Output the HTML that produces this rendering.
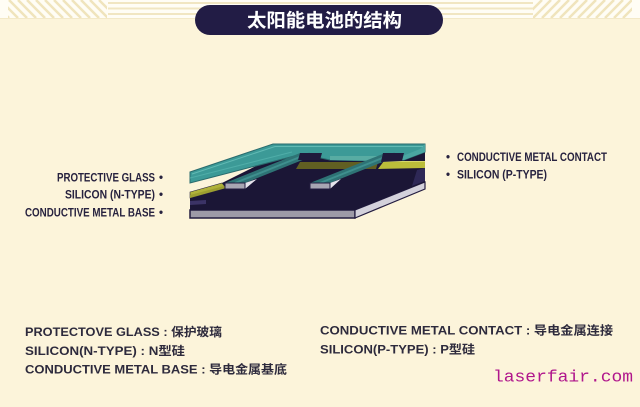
<!DOCTYPE html>
<html>
<head>
<meta charset="utf-8">
<style>
html,body{margin:0;padding:0;background:#fcf4da;}
svg{display:block;}
.lab{font-family:"Liberation Sans","Noto Sans CJK SC",sans-serif;font-weight:700;fill:#27223f;font-size:11.5px;}
.bt{font-family:"Liberation Sans","Noto Sans CJK SC",sans-serif;font-weight:700;fill:#2d2a3c;font-size:12px;}
</style>
</head>
<body>
<svg width="640" height="407" viewBox="0 0 640 407" xmlns="http://www.w3.org/2000/svg">
  <defs>
    <clipPath id="cl"><rect x="8" y="0" width="99" height="18"/></clipPath>
    <clipPath id="cr"><rect x="533" y="0" width="99" height="18"/></clipPath>
  </defs>
  <rect x="0" y="0" width="640" height="407" fill="#fcf4da"/>
  <!-- top strip -->
  <rect x="0" y="0" width="640" height="18" fill="#fffdf5"/>
  <g stroke="#f0e4bc" stroke-width="2.5" clip-path="url(#cl)">
    <line x1="0" y1="0" x2="18" y2="18"/><line x1="9" y1="0" x2="27" y2="18"/>
    <line x1="18" y1="0" x2="36" y2="18"/><line x1="27" y1="0" x2="45" y2="18"/>
    <line x1="36" y1="0" x2="54" y2="18"/><line x1="45" y1="0" x2="63" y2="18"/>
    <line x1="54" y1="0" x2="72" y2="18"/><line x1="63" y1="0" x2="81" y2="18"/>
    <line x1="72" y1="0" x2="90" y2="18"/><line x1="81" y1="0" x2="99" y2="18"/>
    <line x1="90" y1="0" x2="108" y2="18"/><line x1="99" y1="0" x2="117" y2="18"/>
    <line x1="-9" y1="0" x2="9" y2="18"/>
  </g>
  <g stroke="#f0e4bc" stroke-width="2.5" clip-path="url(#cr)">
    <line x1="533" y1="18" x2="551" y2="0"/><line x1="542" y1="18" x2="560" y2="0"/>
    <line x1="551" y1="18" x2="569" y2="0"/><line x1="560" y1="18" x2="578" y2="0"/>
    <line x1="569" y1="18" x2="587" y2="0"/><line x1="578" y1="18" x2="596" y2="0"/>
    <line x1="587" y1="18" x2="605" y2="0"/><line x1="596" y1="18" x2="614" y2="0"/>
    <line x1="605" y1="18" x2="623" y2="0"/><line x1="614" y1="18" x2="632" y2="0"/>
    <line x1="623" y1="18" x2="641" y2="0"/><line x1="524" y1="18" x2="542" y2="0"/>
  </g>
  <g stroke="#f1e6c2" stroke-width="2">
    <line x1="108" y1="3" x2="533" y2="3"/>
    <line x1="108" y1="8.5" x2="533" y2="8.5"/>
    <line x1="108" y1="14" x2="533" y2="14"/>
  </g>
  <line x1="0" y1="18.5" x2="640" y2="18.5" stroke="#f3e9c8" stroke-width="1"/>

  <!-- title pill -->
  <rect x="195" y="5" width="248" height="30" rx="15" ry="15" fill="#221c45"/>
  <text x="247" y="27" font-family="'Liberation Sans','Noto Sans CJK SC',sans-serif" font-weight="700" font-size="18.5" fill="#ffffff" textLength="155" lengthAdjust="spacingAndGlyphs">太阳能电池的结构</text>

  <!-- diagram -->
  <polygon points="190,210 355,210 355,218 190,218" fill="#9d9aa7" stroke="#231c40" stroke-width="1.5"/>
  <polygon points="355,210 425,182 425,189 355,218" fill="#d3d1db" stroke="#231c40" stroke-width="1.2"/>
  <polygon points="191,193 222,183 268,160 300,150 425,150 425,182 355,210 190,210 190,198" fill="#1b1636"/>
  <polygon points="417,170 425,168 425,181 412,186" fill="#2e2856"/>
  <polygon points="190,201 206,200 206,204 190,205" fill="#3b3366"/>
  <polygon points="190,192 222,183 226,188 190,198" fill="#b0b23a" stroke="#2a2540" stroke-width="0.6"/>
  <polygon points="190,195 224,186 226,188 190,198" fill="#9c9e30"/>
  <polygon points="300,162 378,162 376,169 296,169" fill="#615f22"/>
  <polygon points="384,161 425,161 425,168 378,169" fill="#bbbd3a"/>
  <line x1="384" y1="161.5" x2="425" y2="161.5" stroke="#d6d86a" stroke-width="1"/>

  <!-- glass -->
  <polygon points="190,172 273,144 425,144 425,152 404,160 378,161 330,160 302,154 190,183" fill="#3c9a97" stroke="#2a6b6d" stroke-width="1"/>
  <polygon points="425,144 425,152 404,160 400,157 420,149" fill="#4aa6a2"/>
  <polyline points="192,174 275,146.5 423,146.5" fill="none" stroke="#62bab4" stroke-width="1"/>
  <line x1="190" y1="178" x2="292" y2="152" stroke="#4fada8" stroke-width="1"/>
  <polygon points="330,156 400,156 404,160 378,161 330,160" fill="#58aca3"/>

  <!-- strip 1 -->
  <polygon points="225,183 245,183 320,153 300,153" fill="#2e7375"/>
  <line x1="235" y1="183" x2="310" y2="153" stroke="#3f8f8e" stroke-width="2"/>
  <polygon points="300,153 322,153 320,160 298,160" fill="#1f1a3c"/>
  <polygon points="245,183 257,179 245,189" fill="#e6e4ec"/>
  <rect x="225" y="183" width="20" height="6" fill="#a8a6b3" stroke="#231c40" stroke-width="1"/>
  <!-- strip 2 -->
  <polygon points="310,183 330,183 405,153 385,153" fill="#2e7375"/>
  <line x1="320" y1="183" x2="395" y2="153" stroke="#3f8f8e" stroke-width="2"/>
  <polygon points="383,153 404,153 402,161 381,162" fill="#1f1a3c"/>
  <polygon points="330,183 341,179 330,189" fill="#e6e4ec"/>
  <rect x="310" y="183" width="20" height="6" fill="#a8a6b3" stroke="#231c40" stroke-width="1"/>

  <!-- left labels -->
  <text class="lab" x="57" y="181.5" textLength="98" lengthAdjust="spacingAndGlyphs">PROTECTIVE GLASS</text>
  <text class="lab" x="159" y="181.5">•</text>
  <text class="lab" x="65" y="198.5" textLength="90" lengthAdjust="spacingAndGlyphs">SILICON (N-TYPE)</text>
  <text class="lab" x="159" y="198.5">•</text>
  <text class="lab" x="25" y="216.5" textLength="130" lengthAdjust="spacingAndGlyphs">CONDUCTIVE METAL BASE</text>
  <text class="lab" x="159" y="216.5">•</text>

  <!-- right labels -->
  <text class="lab" x="446" y="161">•</text>
  <text class="lab" x="457" y="161" textLength="150" lengthAdjust="spacingAndGlyphs">CONDUCTIVE METAL CONTACT</text>
  <text class="lab" x="446" y="178.5">•</text>
  <text class="lab" x="457" y="178.5" textLength="90" lengthAdjust="spacingAndGlyphs">SILICON (P-TYPE)</text>

  <!-- bottom text -->
  <text class="bt" x="25" y="336" textLength="197" lengthAdjust="spacingAndGlyphs">PROTECTOVE GLASS : 保护玻璃</text>
  <text class="bt" x="25" y="355" textLength="160" lengthAdjust="spacingAndGlyphs">SILICON(N-TYPE) : N型硅</text>
  <text class="bt" x="25" y="373.5" textLength="262" lengthAdjust="spacingAndGlyphs">CONDUCTIVE METAL BASE : 导电金属基底</text>
  <text class="bt" x="320" y="334.5" textLength="293" lengthAdjust="spacingAndGlyphs">CONDUCTIVE METAL CONTACT : 导电金属连接</text>
  <text class="bt" x="320" y="353.5" textLength="155" lengthAdjust="spacingAndGlyphs">SILICON(P-TYPE) : P型硅</text>

  <text x="493" y="381.5" font-family="'Liberation Mono',monospace" font-size="17" fill="#b0168c" textLength="140" lengthAdjust="spacingAndGlyphs">laserfair.com</text>
</svg>
</body>
</html>
